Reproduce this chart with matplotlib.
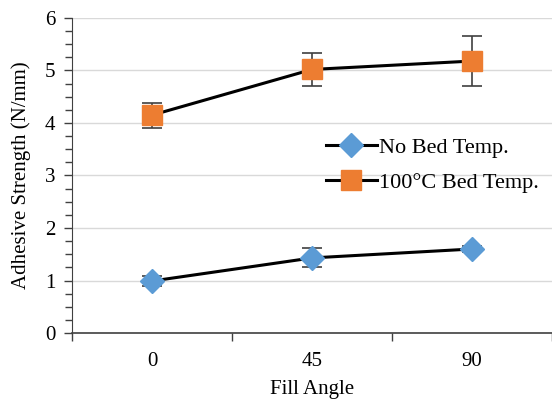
import matplotlib
matplotlib.use("Agg")
import matplotlib.pyplot as plt
from matplotlib.lines import Line2D
from matplotlib.ticker import MultipleLocator, FixedLocator

plt.rcParams['font.family'] = ['Liberation Serif', 'DejaVu Serif']

categories = ["0", "45", "90"]
no_bed = [0.99, 1.43, 1.60]
no_bed_err = [0.10, 0.18, 0.05]
bed100 = [4.15, 5.02, 5.18]
bed100_err = [0.24, 0.31, 0.47]
labels = ['No Bed Temp.', '100°C Bed Temp.']

BLUE = '#5B9BD5'
ORANGE = '#ED7D31'

fig = plt.figure(figsize=(5.52, 4.04), dpi=100)
ax = fig.add_axes([72/552, 1-333/404, 480/552, 315/404])

x = list(range(len(categories)))
ax.errorbar(x, no_bed, yerr=no_bed_err, color='black', lw=2.2,
            marker='D', ms=12, mfc=BLUE, mec=BLUE,
            ecolor='#404040', elinewidth=1.2, capsize=7, capthick=1.2, zorder=3)
ax.errorbar(x, bed100, yerr=bed100_err, color='black', lw=2.2,
            marker='s', ms=14, mfc=ORANGE, mec=ORANGE,
            ecolor='#404040', elinewidth=1.2, capsize=7, capthick=1.2, zorder=3)

ax.set_xlim(-0.5, 2.5)
ax.set_ylim(0, 6)
ax.set_xticks(x)
ax.set_xticklabels(categories)
ax.xaxis.set_minor_locator(FixedLocator([-0.5, 0.5, 1.5, 2.5]))
ax.tick_params(axis='x', which='major', length=0, labelsize=15, pad=14)
ax.tick_params(axis='x', which='minor', length=6, width=1, color='#404040')
ax.yaxis.set_major_locator(MultipleLocator(1))
ax.yaxis.set_minor_locator(MultipleLocator(0.25))
ax.tick_params(axis='y', which='major', length=6, width=1, color='#404040', labelsize=15, pad=6)
ax.tick_params(axis='y', which='minor', length=5, width=1, color='#404040')

ax.grid(axis='y', which='major', color='#D9D9D9', lw=1)
ax.set_axisbelow(True)
for s in ['top', 'right']:
    ax.spines[s].set_visible(False)
ax.spines['left'].set_color('#404040')
ax.spines['bottom'].set_color('#404040')
ax.spines['bottom'].set_linewidth(1.2)

ax.set_xlabel('Fill Angle', fontsize=15, labelpad=6)
ax.set_ylabel('Adhesive Strength (N/mm)', fontsize=15, labelpad=10)

handles = [
    Line2D([], [], color='black', lw=2.2, marker='D', ms=12, mfc=BLUE, mec=BLUE),
    Line2D([], [], color='black', lw=2.2, marker='s', ms=14, mfc=ORANGE, mec=ORANGE),
]
ax.legend(handles, labels, loc='upper left', bbox_to_anchor=(0.51, 0.65),
          frameon=False, fontsize=16, handlelength=2.3, handletextpad=0.1,
          labelspacing=0.65, borderaxespad=0)

fig.savefig('out.png', dpi=100)
